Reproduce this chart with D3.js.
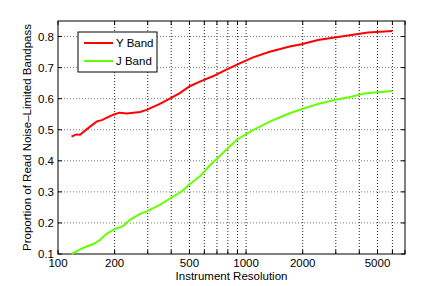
<!DOCTYPE html>
<html>
<head>
<meta charset="utf-8">
<script src="https://cdnjs.cloudflare.com/ajax/libs/d3/7.8.5/d3.min.js"></script>
<style>
  body { margin: 0; background: #fff; }
  svg { display: block; }
  text { font-family: "Liberation Sans", Arial, sans-serif; font-size: 11.5px; fill: #000; }
</style>
</head>
<body>
<div id="chart"></div>
<script>
// values
const resY = [118, 125, 131, 148, 161, 171, 189, 200, 213, 232, 273, 296, 348, 393, 444, 502, 568, 666, 752, 889, 1089, 1336, 1706, 1968, 2412, 2958, 3628, 4447, 6000];
const yBand = [0.478, 0.485, 0.484, 0.51, 0.527, 0.531, 0.544, 0.550, 0.555, 0.552, 0.557, 0.564, 0.583, 0.600, 0.618, 0.640, 0.655, 0.672, 0.688, 0.709, 0.733, 0.751, 0.768, 0.775, 0.789, 0.797, 0.805, 0.813, 0.818];

const resJ = [118, 131, 142, 154, 167, 181, 200, 222, 241, 273, 296, 348, 410, 454, 498, 568, 641, 752, 889, 1089, 1336, 1706, 1968, 2412, 2958, 3628, 4270, 4823, 6000];
const jBand = [0.100, 0.115, 0.124, 0.132, 0.145, 0.165, 0.180, 0.190, 0.210, 0.229, 0.237, 0.258, 0.285, 0.301, 0.323, 0.350, 0.385, 0.425, 0.467, 0.499, 0.526, 0.553, 0.566, 0.583, 0.596, 0.606, 0.617, 0.620, 0.625];

const xTicks = [100, 200, 300, 400, 500, 600, 700, 800, 900, 1000, 2000, 3000, 4000, 5000, 6000];
const xLabels = [100, 200, 500, 1000, 2000, 5000];
const yTicks = [0.1, 0.2, 0.3, 0.4, 0.5, 0.6, 0.7, 0.8];

const width = 446;
const height = 286;
const margin = {top: 21, right: 41, bottom: 32, left: 58};
const w = width - margin.left - margin.right;
const h = height - margin.top - margin.bottom;

const svg = d3.select("#chart")
              .append("svg")
              .attr("width", width)
              .attr("height", height);

const g = svg.append("g")
             .attr("transform", `translate(${margin.left}, ${margin.top})`);

const x = d3.scaleLog().domain([100, 7000]).range([0, w]);
const y = d3.scaleLinear().domain([0.1, 0.85]).range([h, 0]);

// grid
g.selectAll(".vgrid")
 .data(xTicks.filter(d => d > 100))
 .enter()
 .append("line")
 .attr("x1", d => x(d)).attr("x2", d => x(d))
 .attr("y1", 0).attr("y2", h)
 .attr("stroke", "#222")
 .attr("stroke-width", 1)
 .attr("stroke-dasharray", "1,2");

g.selectAll(".hgrid")
 .data(yTicks.filter(d => d > 0.1))
 .enter()
 .append("line")
 .attr("x1", 0).attr("x2", w)
 .attr("y1", d => y(d)).attr("y2", d => y(d))
 .attr("stroke", "#777")
 .attr("stroke-width", 1)
 .attr("stroke-dasharray", "1,2");

// ticks on all sides, pointing in
const tk = 4;
const xt = g.selectAll(".xt").data(xTicks.concat([7000])).enter();
xt.append("line")
  .attr("x1", d => x(d)).attr("x2", d => x(d))
  .attr("y1", h).attr("y2", h - tk)
  .attr("stroke", "#000");
xt.append("line")
  .attr("x1", d => x(d)).attr("x2", d => x(d))
  .attr("y1", 0).attr("y2", tk)
  .attr("stroke", "#000");

const yt = g.selectAll(".yt").data(yTicks).enter();
yt.append("line")
  .attr("x1", 0).attr("x2", tk)
  .attr("y1", d => y(d)).attr("y2", d => y(d))
  .attr("stroke", "#000");
yt.append("line")
  .attr("x1", w).attr("x2", w - tk)
  .attr("y1", d => y(d)).attr("y2", d => y(d))
  .attr("stroke", "#000");

// box
g.append("rect")
 .attr("width", w).attr("height", h)
 .attr("fill", "none")
 .attr("stroke", "#000")
 .attr("stroke-width", 1);

// tick labels
g.selectAll(".xl")
 .data(xLabels)
 .enter()
 .append("text")
 .attr("x", d => x(d))
 .attr("y", h + 13)
 .attr("text-anchor", "middle")
 .text(d => d);

g.selectAll(".yl")
 .data(yTicks)
 .enter()
 .append("text")
 .attr("x", -4)
 .attr("y", d => y(d) + 4)
 .attr("text-anchor", "end")
 .text(d => d.toFixed(1));

// axis titles
g.append("text")
 .attr("x", w / 2)
 .attr("y", h + 26)
 .attr("text-anchor", "middle")
 .text("Instrument Resolution");

g.append("text")
 .attr("transform", `translate(${31 - margin.left}, ${h / 2}) rotate(-90)`)
 .attr("text-anchor", "middle")
 .text("Proportion of Read Noise\u2013Limited Bandpass");

// curves
const line = d3.line()
               .x(d => x(d[0]))
               .y(d => y(d[1]));

const series = [
  {name: "Y Band", color: "#ff0000", data: d3.zip(resY, yBand)},
  {name: "J Band", color: "#66ff00", data: d3.zip(resJ, jBand)}
];

g.selectAll(".curve")
 .data(series)
 .enter()
 .append("path")
 .attr("d", d => line(d.data))
 .attr("fill", "none")
 .attr("stroke", d => d.color)
 .attr("stroke-width", 2);

// legend
const legend = svg.append("g")
                  .attr("transform", "translate(78, 32)");

legend.append("rect")
      .attr("width", 79)
      .attr("height", 40)
      .attr("fill", "#fff")
      .attr("stroke", "#000");

const item = legend.selectAll(".item")
                   .data(series)
                   .enter()
                   .append("g")
                   .attr("transform", (d, i) => `translate(0, ${11 + 18 * i})`);

item.append("line")
    .attr("x1", 6).attr("x2", 35)
    .attr("y1", 0).attr("y2", 0)
    .attr("stroke", d => d.color)
    .attr("stroke-width", 2);

item.append("text")
    .attr("x", 38)
    .attr("y", 4)
    .text(d => d.name);
</script>
</body>
</html>
